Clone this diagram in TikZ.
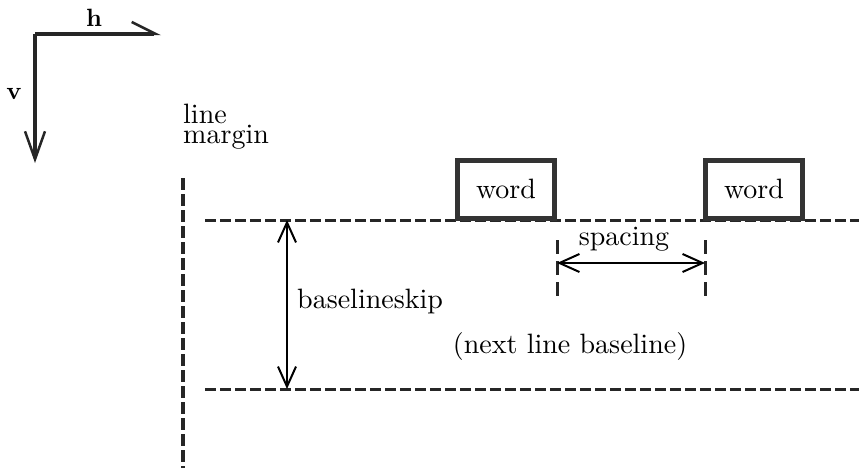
\documentclass[tikz,border=0pt]{standalone}
\usepackage{fontspec}
% text-size design of Latin Modern, scaled up
\setmainfont{lmroman10}[Extension=.otf, UprightFont=*-regular, BoldFont=*-bold]
\usetikzlibrary{arrows.meta}
\tikzset{
  axis/.style={line width=4.5pt, black!85},
  guide/.style={line width=3pt, black!85, dash pattern=on 11pt off 4pt},
  wordbox/.style={draw=black!80, line width=5pt, fill=white, minimum width=97pt,
                  minimum height=58pt, inner sep=0pt, font=\fontsize{28}{30}\selectfont},
  txt/.style={inner sep=0pt, font=\fontsize{28}{30}\selectfont},
  measure/.style={line width=2pt,
    {Straight Barb[length=20pt,width=18pt,line width=2pt]}-{Straight Barb[length=20pt,width=18pt,line width=2pt]}}
}
\begin{document}
\begin{tikzpicture}[x=1pt,y=-1pt]
\useasboundingbox (0,0) rectangle (859,468);

% coordinate axes
\coordinate (origin) at (35,34);
\coordinate (hend) at (161,34);
\coordinate (vend) at (35,163);
\draw[axis, -{Straight Barb[left,length=24pt,width=24pt,line width=2.5pt]}] (origin) -- (hend);
\draw[axis, -{Straight Barb[length=28pt,width=20pt,line width=2.5pt]}] (origin) -- (vend);
\node[txt, anchor=base, font=\fontsize{25}{27}\selectfont\bfseries] (hlab) at (94,27) {h};
\node[txt, anchor=base, font=\fontsize{25}{27}\selectfont\bfseries] (vlab) at (14,100) {v};

% line margin (two tight lines in one label; base is the last line)
\node[txt, anchor=base west, align=left, font=\fontsize{28}{20}\selectfont]
  (marginlab) at (183,143) {line\\margin};
\coordinate (mtop) at (183,178);
\coordinate (mbot) at (183,470);
\draw[guide, line width=3.5pt, dash pattern=on 12pt off 4pt] (mtop) -- (mbot);

% baselines
\coordinate (b1l) at (205,220);
\coordinate (b1r) at (859,220);
\coordinate (b2l) at (205,389);
\coordinate (b2r) at (859,389);
\draw[guide] (b1l) -- (b1r);
\draw[guide] (b2l) -- (b2r);

% words sitting on the baseline
\node[wordbox] (w1) at (506,189) {word};
\node[wordbox] (w2) at (754,189) {word};

% inter-word spacing
\coordinate (s1t) at (557,240);
\coordinate (s1b) at (557,298);
\coordinate (s2t) at (705,240);
\coordinate (s2b) at (705,298);
\draw[guide, dash pattern=on 14pt off 7pt] (s1t) -- (s1b);
\draw[guide, dash pattern=on 14pt off 7pt] (s2t) -- (s2b);
\coordinate (sa) at (557,263);
\coordinate (sb) at (705,263);
\draw[measure] (sa) -- (sb);
\node[txt, anchor=base] (spacing) at (624,245) {spacing};

% baselineskip
\coordinate (k1) at (287,220);
\coordinate (k2) at (287,389);
\draw[measure] (k1) -- (k2);
\node[txt, anchor=base west] (skip) at (297,308) {baselineskip};

\node[txt, anchor=base] (next) at (570,353) {(next line baseline)};
\end{tikzpicture}
\end{document}
